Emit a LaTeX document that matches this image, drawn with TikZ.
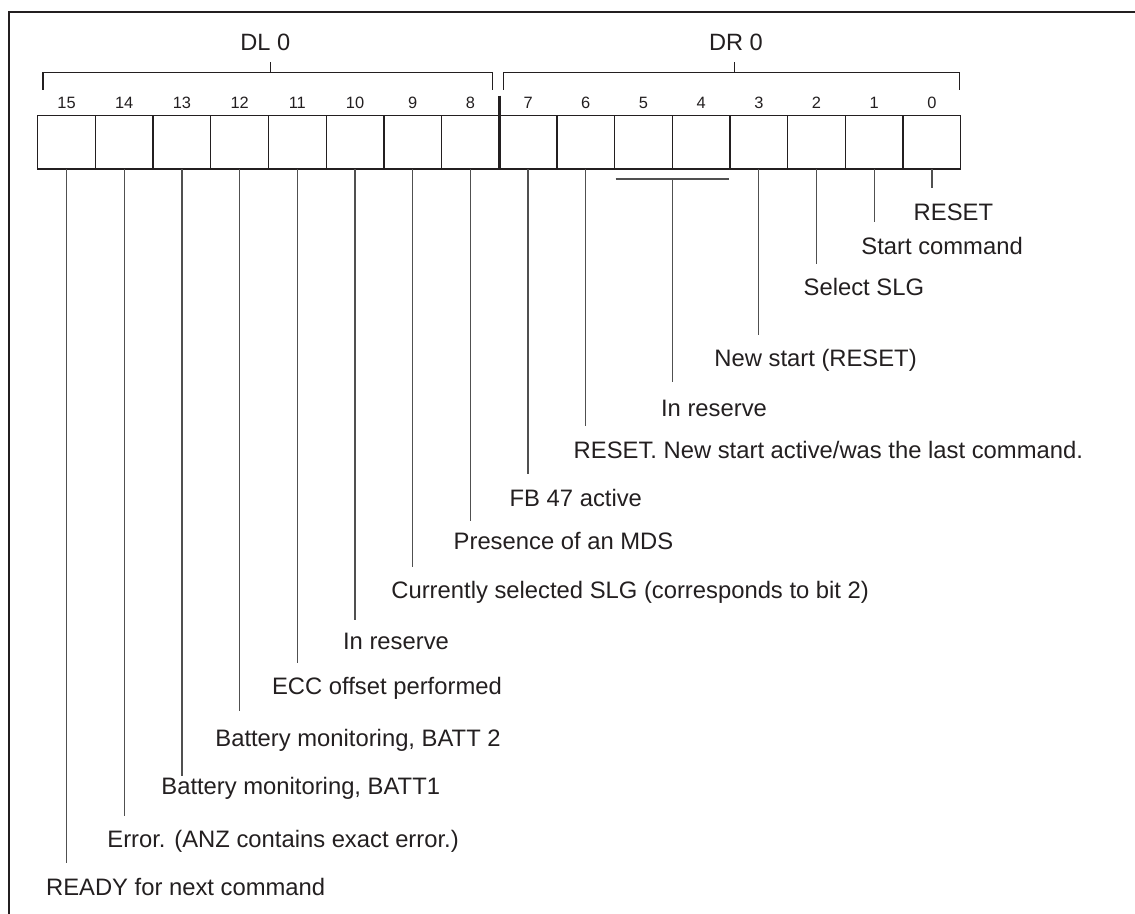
\documentclass[tikz,border=0pt]{standalone}
\usepackage{fontspec}
\setmainfont{Liberation Sans}
\usetikzlibrary{calc,positioning}

\definecolor{ink}{HTML}{231F20}
\definecolor{leadgray}{HTML}{505050}

\tikzset{
  cell/.style={draw=ink, line width=0.65pt, minimum width=28.85pt, minimum height=26.65pt, inner sep=0pt, outer sep=0pt},
  bitno/.style={font=\fontsize{8.2}{10}\selectfont, text=ink, inner sep=0pt, anchor=base},
  regname/.style={font=\fontsize{11.8}{14}\selectfont, text=ink, inner sep=0pt},
  lbl/.style={font=\fontsize{11.9}{14}\selectfont, text=ink, inner sep=0pt, anchor=base west, text height=8.3pt, text depth=0pt},
  lead/.style={draw=leadgray, line width=0.65pt, shorten >=7.5pt},
  brace/.style={draw=ink, line width=0.65pt},
}

\begin{document}
\begin{tikzpicture}[x=0.5pt,y=-0.5pt]
\useasboundingbox (0,0) rectangle (1135,914);
\draw[ink, line width=0.65pt] (9,914) -- (9,12) -- (1135,12);

% the sixteen bits
\foreach \b [evaluate=\b as \cx using {66.55+57.69*(15-\b)}] in {15,14,...,0} {
  \node[cell] (b\b) at (\cx,142.4) {};
  \node[bitno] (n\b) at ([yshift=3.4pt]b\b.north) {\b};
}
\draw[ink, line width=1.7pt] ($(b8.north east)+(0,-20)$) -- ($(b8.south east)+(0,1)$);

% byte brackets
\node[regname] (dl) at (265.3,42) {DL 0};
\node[regname] (dr) at (736,42) {DR 0};
\draw[brace] (43,90) -- (43,72.3) -- (492.3,72.3) -- (492.3,90);
\draw[brace] (270.3,72.3) -- (270.3,61.7);
\draw[brace] (503.3,90) -- (503.3,72.7) -- (959.3,72.7) -- (959.3,90);
\draw[brace] (734.7,72.7) -- (734.7,62);

% meanings
\node[lbl] (l0) at (913.3,220.2) {RESET};
\node[lbl] (l1) at (861,254.2) {Start command};
\node[lbl] (l2) at (803.3,295.8) {Select SLG};
\node[lbl] (l3) at (714,366.8) {New start (RESET)};
\node[lbl] (l45) at (660.7,416.8) {In reserve};
\node[lbl] (l6) at (573.3,458.5) {RESET. New start active/was the last command.};
\node[lbl] (l7) at (509.3,506.2) {FB 47 active};
\node[lbl] (l8) at (453.3,549.5) {Presence of an MDS};
\node[lbl] (l9) at (391,598.5) {Currently selected SLG (corresponds to bit 2)};
\node[lbl] (l10) at (342.7,649.5) {In reserve};
\node[lbl] (l11) at (271.7,694.5) {ECC offset performed};
\node[lbl] (l12) at (215,746.2) {Battery monitoring, BATT 2};
\node[lbl] (l13) at (161,794.5) {Battery monitoring, BATT1};
\node[lbl] (l14) at (107,847.5) {Error. (ANZ contains exact error.)};
\node[lbl] (l15) at (45.7,895.2) {READY for next command};

% leader lines
\coordinate (m45) at ($(b5.south east)+(0,10)$);
\draw[lead, shorten >=0pt] ($(b5.south west)+(1,10)$) -- ($(b4.south east)+(-1,10)$);
\draw[lead, shorten >=9pt] (m45) -- (m45 |- l45.north);
\foreach \b in {0,1,2,3,6,7,9,11,14,15}
  \draw[lead] (b\b.south) -- (b\b.south |- l\b.north);
\draw[lead, shorten >=6pt] (b8.south) -- (b8.south |- l8.north);
\draw[lead, shorten >=6.5pt] (b10.south) -- (b10.south |- l10.north);
\draw[lead, shorten >=9pt] (b12.south) -- (b12.south |- l12.north);
\draw[lead, shorten >=1pt] (b13.south) -- (b13.south |- l13.north);
\end{tikzpicture}
\end{document}
